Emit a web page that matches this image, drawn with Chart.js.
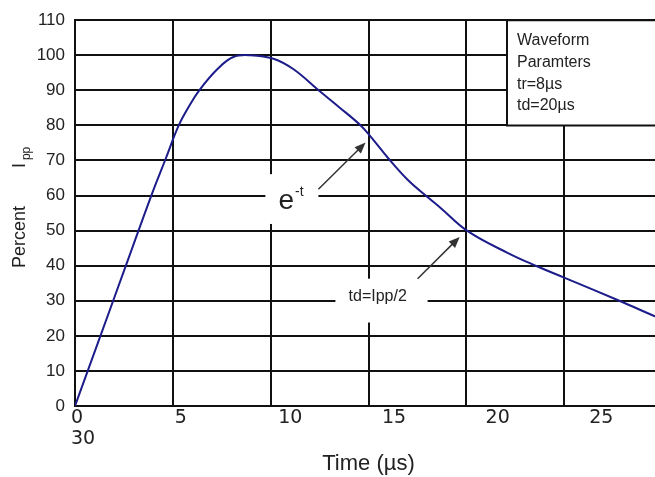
<!DOCTYPE html>
<html>
<head>
<meta charset="utf-8">
<script src="https://cdn.jsdelivr.net/npm/chart.js@4"></script>
<style>
  html, body { margin: 0; padding: 0; overflow: hidden; background: #fff; }
  /* a little wider than the window: the plot runs off the right edge like the original */
  #wrap { position: relative; width: 662px; height: 477px; }
</style>
</head>
<body>
<div id="wrap"><canvas id="c"></canvas></div>
<script>
// 8/20 µs surge waveform: percent of peak current against time.

const timeUs = [0, 1.3, 2.6, 3.9, 4.6, 5.3, 5.8, 6.35, 7.27, 8.09, 8.97, 10.14, 11.17, 12.45, 13.5,
  14.6, 15.11, 16.03, 17.0, 18.03, 18.7, 20.03, 22.13, 23.67, 25.0, 27.82, 29.71, 30];
const percentIpp = [0, 20, 40, 60, 70, 80, 85.2, 90, 96, 99.5, 100, 99, 96, 90, 85.2,
  80, 76.8, 70.5, 64.5, 59.5, 56.4, 50, 43.6, 39.7, 36.6, 30, 25.4, 24.8];

const xGridValues = [0, 5, 10, 15, 20, 25, 30];
const xTickValues = [0, 5, 10, 15, 20, 25];
const xTickLabels = ['0', '5', '10', '15', '20', '25'];
const xTickOverflow = '30';
const waveformParams = ['Waveform', 'Paramters', 'tr=8µs', 'td=20µs'];

const INK = '#111';
const TEXT = '#222';
const CURVE = '#1c1c8a';
const SANS = '"Liberation Sans", Arial, sans-serif';

function arrow(ctx, x0, y0, x1, y1) {
  const a = Math.atan2(y1 - y0, x1 - x0);
  const len = 11, half = 4.5;
  ctx.beginPath();
  ctx.moveTo(x0, y0);
  ctx.lineTo(x1 - Math.cos(a) * len * 0.8, y1 - Math.sin(a) * len * 0.8);
  ctx.stroke();
  ctx.beginPath();
  ctx.moveTo(x1, y1);
  ctx.lineTo(x1 - Math.cos(a) * len - Math.sin(a) * half, y1 - Math.sin(a) * len + Math.cos(a) * half);
  ctx.lineTo(x1 - Math.cos(a) * len + Math.sin(a) * half, y1 - Math.sin(a) * len - Math.cos(a) * half);
  ctx.closePath();
  ctx.fill();
}

// ---------- annotations drawn over the grid ----------
const notes = {
  id: 'notes',
  afterDraw(chart) {
    const { ctx, chartArea } = chart;
    const x = chart.scales.x, y = chart.scales.y;
    const px = (t) => x.getPixelForValue(t);
    const py = (v) => y.getPixelForValue(v);
    ctx.save();

    // parameter box in the top-right corner
    const bx = Math.round(px(22.1)), bt = py(110), bb = py(80);
    ctx.fillStyle = '#fff';
    ctx.fillRect(bx, bt, chart.width - bx, bb - bt);
    ctx.strokeStyle = INK;
    ctx.lineWidth = 2;
    ctx.beginPath();
    ctx.moveTo(chart.width, bt); ctx.lineTo(bx, bt); ctx.lineTo(bx, bb); ctx.lineTo(chart.width, bb);
    ctx.stroke();
    ctx.fillStyle = TEXT;
    ctx.font = '16px ' + SANS;
    ctx.textBaseline = 'alphabetic';
    waveformParams.forEach((line, i) => ctx.fillText(line, bx + 10, bt + 25 + i * 21.7));

    // e^-t label
    ctx.fillStyle = '#fff';
    ctx.fillRect(px(9.73), py(66.1), px(12.44) - px(9.73), py(51.9) - py(66.1));
    ctx.fillStyle = TEXT;
    ctx.font = '28px ' + SANS;
    const ex = px(10.4), ey = py(56.1);
    ctx.fillText('e', ex, ey);
    const ew = ctx.measureText('e').width;
    ctx.font = '14px ' + SANS;
    ctx.fillText('-t', ex + ew + 1, ey - 13);
    ctx.strokeStyle = '#333';
    ctx.fillStyle = '#333';
    ctx.lineWidth = 1.5;
    arrow(ctx, px(12.44), py(61.8), px(14.85), py(75.1));

    // td = Ipp/2 label
    ctx.fillStyle = '#fff';
    ctx.fillRect(px(13.31), py(36.3), px(18.02) - px(13.31), py(23.8) - py(36.3));
    ctx.fillStyle = TEXT;
    ctx.font = '16px ' + SANS;
    ctx.fillText('td=Ipp/2', px(13.98), py(29.8));
    ctx.fillStyle = '#333';
    arrow(ctx, px(17.51), py(36.3), px(19.66), py(48.2));

    // rotated y title with subscript
    const start = (chartArea.top + chartArea.bottom) / 2 + 55;
    ctx.translate(25, start);
    ctx.rotate(-Math.PI / 2);
    ctx.fillStyle = TEXT;
    ctx.font = '18px ' + SANS;
    ctx.fillText('Percent', 0, 0);
    ctx.fillText('I', 100, 0);
    ctx.font = '12px ' + SANS;
    ctx.fillText('pp', 108, 5);

    ctx.restore();
  },
};

new Chart(document.getElementById('c'), {
  type: 'line',
  data: {
    datasets: [{
      data: timeUs.map((t, i) => ({ x: t, y: percentIpp[i] })),
      borderColor: CURVE,
      borderWidth: 2,
      pointRadius: 0,
      fill: false,
      tension: 0.4,
    }],
  },
  options: {
    responsive: true,
    maintainAspectRatio: false,
    animation: false,
    layout: { padding: { top: 18, left: 0, right: 0, bottom: 0 } },
    plugins: { legend: { display: false }, tooltip: { enabled: false } },
    scales: {
      x: {
        type: 'linear', min: 0, max: 30, weight: 0,
        afterBuildTicks: (s) => { s.ticks = xGridValues.map((v) => ({ value: v })); },
        ticks: { display: false },
        grid: { color: INK, lineWidth: 2, drawTicks: false },
        border: { color: INK, width: 2 },
      },
      x2: {
        type: 'linear', position: 'bottom', min: 0, max: 28.32, weight: 1,
        afterBuildTicks: (s) => { s.ticks = xTickValues.map((v) => ({ value: v })); },
        afterFit: (s) => { s.height = 71; },
        grid: { display: false },
        border: { display: false },
        ticks: {
          align: 'start', labelOffset: -4, padding: -7, autoSkip: false, maxRotation: 0,
          color: TEXT,
          font: { family: '"DejaVu Sans"', size: 19, lineHeight: 1.12 },
          callback: (v, i) => (i === 0 ? [xTickLabels[0], xTickOverflow] : xTickLabels[i]),
        },
        title: {
          display: true, text: 'Time (µs)', color: TEXT,
          font: { family: SANS, size: 22 }, padding: { top: 0, bottom: 0 },
        },
      },
      y: {
        min: 0, max: 110,
        afterFit: (s) => { s.width = 75; },
        ticks: { stepSize: 10, padding: 10, color: TEXT, font: { family: SANS, size: 17 } },
        grid: { color: INK, lineWidth: 2, drawTicks: false },
        border: { color: INK, width: 2 },
      },
    },
  },
  plugins: [notes],
});
</script>
</body>
</html>
